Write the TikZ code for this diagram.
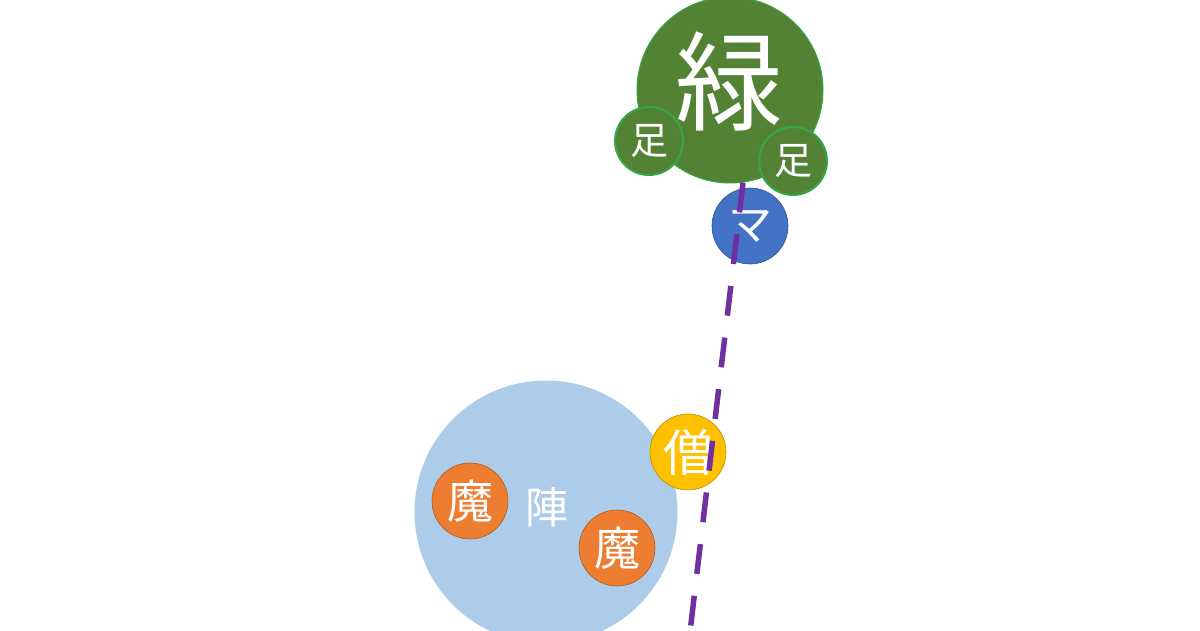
\documentclass[tikz,border=0pt]{standalone}
\usepackage{fontspec}
\newfontfamily\jpfont{Noto Sans CJK JP}
\usetikzlibrary{positioning}
\definecolor{leafgreen}{RGB}{84,130,53}
\definecolor{leafedge}{RGB}{52,168,72}
\definecolor{maskblue}{RGB}{68,114,196}
\definecolor{maskedge}{RGB}{47,82,143}
\definecolor{fieldblue}{RGB}{173,204,234}
\definecolor{demonorange}{RGB}{237,125,49}
\definecolor{demonedge}{RGB}{174,90,33}
\definecolor{monkyellow}{RGB}{255,192,0}
\definecolor{monkedge}{RGB}{188,140,0}
\definecolor{pathpurple}{RGB}{112,48,160}

\begin{document}
\begin{tikzpicture}[
  x=1pt, y=-1pt,
  disc/.style={circle, inner sep=0pt, text=white},
  jp/.style={font={\jpfont\fontsize{#1}{#1}\selectfont}},
  leaf/.style={disc, fill=leafgreen, draw=leafedge, line width=2pt,
    minimum size=68pt, jp=38},
  demon/.style={disc, fill=demonorange, draw=demonedge, line width=0.6pt,
    minimum size=76pt, jp=46},
  route/.style={draw=pathpurple, line width=5.5pt, dash pattern=on 30pt off 22pt}
]
  \useasboundingbox[fill=white] (0,0) rectangle (1200,630);

  % field
  \node[disc, fill=fieldblue, minimum size=263pt] (jin) at (546,512) {};
  \node[text=white, jp=43] (jinText) at (547,507) {陣};
  \node[demon] (ma1) at (470,501) {魔};
  \node[demon] (ma2) at (617,548) {魔};
  \node[disc, fill=monkyellow, draw=monkedge, line width=0.6pt,
    minimum size=76pt, jp=50] (sou) at (688,452) {僧};

  % tree
  \node[disc, fill=leafgreen, draw=leafedge, line width=1pt,
    minimum size=186pt] (midori) at (730,90) {};
  \node[text=white, jp=108] (midoriText) at (729,81) {緑};
  \node[leaf] (ashiL) at (649,141) {足};
  \node[leaf] (ashiR) at (793,161) {足};
  \node[disc, fill=maskblue, draw=maskedge, line width=0.6pt,
    minimum size=76pt, jp=44] (mask) at (750,226) {マ};

  \coordinate (routeEnd) at (690,632);
  \draw[route] (midori.-82) -- (routeEnd);
\end{tikzpicture}
\end{document}
